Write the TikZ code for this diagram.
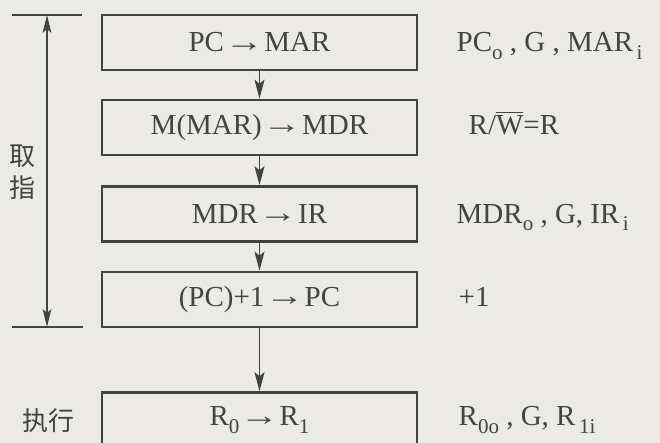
\documentclass[tikz,border=0pt]{standalone}
\usepackage{fontspec}
\usepackage{graphicx}
\setmainfont{Liberation Serif}
\newfontfamily\cjk{Noto Sans CJK SC}
\usetikzlibrary{arrows.meta,positioning}

\definecolor{bgcol}{HTML}{ECEAE6}
\definecolor{inkcol}{HTML}{434343}

\newcommand{\arr}{\kern0.02em\raisebox{0.05ex}{\scalebox{1.35}[1]{→}}\kern0.02em}
\newcommand{\lo}[1]{\raisebox{-0.55ex}{\fontsize{10.5}{11}\selectfont #1}}

\tikzset{
  stepbox/.style={draw=inkcol, line width=1.3pt, minimum width=157.5pt,
    minimum height=27.5pt, inner sep=0pt, text=inkcol,
    font=\fontsize{14.5}{17}\selectfont},
  signal/.style={anchor=base west, inner sep=0pt, text=inkcol,
    font=\fontsize{14.5}{17}\selectfont},
  phase/.style={text=inkcol, align=center, font=\cjk\fontsize{13}{16}\selectfont},
  flow/.style={-{Stealth[length=9.5pt,width=5pt,inset=2pt]}, draw=inkcol, line width=0.7pt},
}

\begin{document}
\begin{tikzpicture}[x=0.5pt, y=-0.5pt]
  % Background and page size
  \fill[bgcol] (0,0) rectangle (660,443);
  \useasboundingbox (0,0) rectangle (660,443);

  % Micro-operation boxes
  \node[stepbox] (b1) at (259.5,42.5) {PC\arr MAR};
  \node[stepbox] (b2) at (259.5,127.5) {M(MAR)\arr MDR};
  \node[stepbox] (b3) at (259.5,214) {MDR\arr IR};
  \node[stepbox] (b4) at (259.5,299.5) {(PC)+1\arr PC};
  \node[stepbox] (b5) at (259.5,420) {R\lo{0}\arr R\lo{1}};

  % Control signals
  \node[signal] (s1) at ([xshift=19pt]b1.base east) {PC\lo{o} , G , MAR\lo{\,i}};
  \node[signal] (s2) at ([xshift=25pt]b2.base east) {R/$\overline{\hbox{W}}$=R};
  \node[signal] (s3) at ([xshift=19pt]b3.base east) {MDR\lo{o} , G, IR\lo{\,i}};
  \node[signal] (s4) at ([xshift=20pt]b4.base east) {+1};
  \node[signal] (s5) at ([xshift=20pt]b5.base east) {R\lo{0o} , G, R\lo{\,1i}};

  % Flow arrows
  \draw[flow] (b1) -- (b2);
  \draw[flow] (b2) -- (b3);
  \draw[flow] (b3) -- (b4);
  \draw[flow] (b4) -- (b5);

  % Fetch bracket
  \coordinate (ftop) at (47,15);
  \coordinate (fbot) at (47,327);
  \draw[inkcol, line width=0.6pt] (12,15) -- (82,15);
  \draw[inkcol, line width=0.6pt] (12,327) -- (83,327);
  \draw[{Stealth[length=9pt,width=4.4pt,inset=2pt]}-{Stealth[length=9pt,width=4.4pt,inset=2pt]}, inkcol, line width=0.6pt] (ftop) -- (fbot);

  % Phase labels
  \node[phase] (fetch) at (23,172) {取\\指};
  \node[phase] (exec) at (48.5,421) {执行};
\end{tikzpicture}
\end{document}
